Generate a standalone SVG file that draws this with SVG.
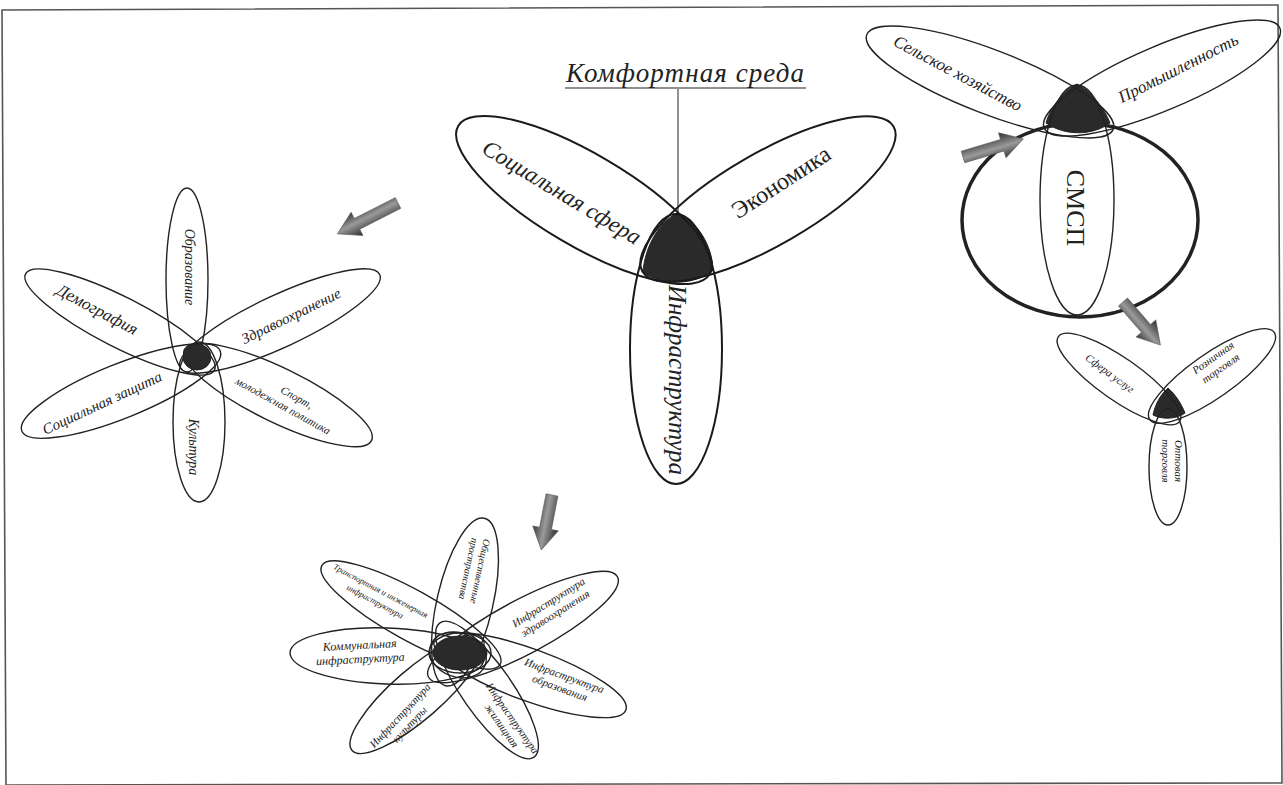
<svg xmlns="http://www.w3.org/2000/svg" width="1283" height="785" viewBox="0 0 1283 785">
<style>
.p{fill:none;stroke:#222;stroke-width:1.4}
.pc{fill:none;stroke:#1a1a1a;stroke-width:2}
.dk{fill:#2a2a2a;stroke:#222;stroke-width:1}
.t{font-family:"Liberation Serif",serif;font-style:italic;fill:#222;text-anchor:middle}
.arr{fill:url(#ag);stroke:#555;stroke-width:0.6}
</style>
<defs>
<linearGradient id="ag" x1="0" y1="0" x2="0" y2="1">
<stop offset="0" stop-color="#2e2e2e"/>
<stop offset="0.55" stop-color="#9a9a9a"/>
<stop offset="1" stop-color="#3a3a3a"/>
</linearGradient>
</defs>
<rect x="0" y="0" width="1283" height="785" fill="#fff"/>
<polygon points="2,10 1278,5 1282,783 6,785" fill="none" stroke="#555" stroke-width="1.6"/>

<g id="comfort">
<text class="t" x="685" y="82" font-size="27" textLength="238" lengthAdjust="spacing">Комфортная среда</text>
<line x1="565" y1="88" x2="806" y2="88" stroke="#222" stroke-width="1.2"/>
<line x1="678" y1="89" x2="678" y2="213" stroke="#222" stroke-width="1"/>
</g>

<g id="center-flower">
<path class="dk" d="M677,213 C660,222 645,245 643,272 C660,286 695,286 713,270 C712,245 698,222 677,213 Z"/>
<g id="n-social"><ellipse class="pc" cx="584" cy="200" rx="146" ry="46" transform="rotate(30.5 584 200)"/>
<text class="t" font-size="23" transform="translate(562,192) rotate(31)" dy="8">Социальная сфера</text></g>
<g id="n-econ"><ellipse class="pc" cx="768" cy="199" rx="145" ry="46" transform="rotate(-30 768 199)"/>
<text class="t" font-size="24" style="font-style:normal" transform="translate(781,182) rotate(-33)" dy="8">Экономика</text></g>
<g id="n-infra"><ellipse class="pc" cx="676" cy="349" rx="46" ry="135"/>
<text class="t" font-size="25" transform="translate(677,380) rotate(90)" dy="8">Инфраструктура</text></g>
</g>

<g id="social-flower">
<g id="n-obr"><ellipse class="p" cx="187" cy="280" rx="21" ry="92"/>
<text class="t" font-size="14" transform="translate(190,267) rotate(90)" dy="5">Образование</text></g>
<g id="n-kult"><ellipse class="p" cx="199" cy="422" rx="26" ry="80"/>
<text class="t" font-size="14" transform="translate(194,447) rotate(90)" dy="5">Культура</text></g>
<g id="n-demo"><ellipse class="p" cx="120" cy="322" rx="106" ry="25" transform="rotate(27 120 322)"/>
<text class="t" font-size="17" transform="translate(97,310) rotate(28)" dy="5">Демография</text></g>
<g id="n-zdrav"><ellipse class="p" cx="280" cy="321" rx="110" ry="26" transform="rotate(-25 280 321)"/>
<text class="t" font-size="15" transform="translate(291,316) rotate(-26)" dy="5">Здравоохранение</text></g>
<g id="n-szash"><ellipse class="p" cx="121" cy="391" rx="107" ry="27" transform="rotate(-22 121 391)"/>
<text class="t" font-size="15" transform="translate(102,403) rotate(-25)" dy="5">Социальная защита</text></g>
<g id="n-sport"><ellipse class="p" cx="278" cy="395" rx="104" ry="27" transform="rotate(26 278 395)"/>
<text class="t" font-size="11" transform="translate(285,402) rotate(29)"><tspan x="8" y="-6">Спорт,</tspan><tspan x="0" y="8">молодежная политика</tspan></text></g>
<ellipse class="dk" cx="197" cy="357" rx="14" ry="13"/>
</g>

<g id="infra-flower">
<g id="n-obsh"><ellipse class="p" cx="465" cy="602" rx="86" ry="28" transform="rotate(-77 465 602)"/>
<text class="t" font-size="10" transform="translate(474,570) rotate(102)"><tspan x="0" y="-3">Общественные</tspan><tspan x="0" y="9">пространства</tspan></text></g>
<g id="n-trans"><ellipse class="p" cx="411" cy="615" rx="102" ry="25" transform="rotate(29 411 615)"/>
<text class="t" font-size="8.5" transform="translate(378,596) rotate(28)"><tspan x="0" y="-3">Транспортная и инженерная</tspan><tspan x="0" y="9">инфраструктура</tspan></text></g>
<g id="n-izdr"><ellipse class="p" cx="523" cy="627" rx="107" ry="27" transform="rotate(-28 523 627)"/>
<text class="t" font-size="11" transform="translate(552,608) rotate(-32)"><tspan x="0" y="-3">Инфраструктура</tspan><tspan x="0" y="10">здравоохранения</tspan></text></g>
<g id="n-komm"><ellipse class="p" cx="387" cy="656" rx="97" ry="28" transform="rotate(2 387 656)"/>
<text class="t" font-size="12" transform="translate(360,652) rotate(-3)"><tspan x="0" y="-3">Коммунальная</tspan><tspan x="0" y="11">инфраструктура</tspan></text></g>
<g id="n-iobr"><ellipse class="p" cx="530" cy="675" rx="102" ry="26" transform="rotate(20 530 675)"/>
<text class="t" font-size="11" transform="translate(562,682) rotate(20)"><tspan x="0" y="-3">Инфраструктура</tspan><tspan x="0" y="10">образования</tspan></text></g>
<g id="n-ikult"><ellipse class="p" cx="417" cy="694" rx="86" ry="25" transform="rotate(-41 417 694)"/>
<text class="t" font-size="11" transform="translate(405,720) rotate(-47)"><tspan x="0" y="-3">Инфраструктура</tspan><tspan x="0" y="10">культуры</tspan></text></g>
<g id="n-izhil"><ellipse class="p" cx="487" cy="690" rx="82" ry="25" transform="rotate(55 487 690)"/>
<text class="t" font-size="11" transform="translate(507,722) rotate(55)"><tspan x="0" y="-3">Инфраструктура</tspan><tspan x="0" y="10">жилищная</tspan></text></g>
<ellipse class="dk" cx="460" cy="653" rx="27" ry="17"/>
<ellipse class="p" cx="460" cy="653" rx="31" ry="20"/>
<ellipse class="p" cx="458" cy="655" rx="29" ry="22" transform="rotate(20 458 655)"/>
</g>

<g id="econ-flower">
<ellipse class="p" cx="1080" cy="220" rx="118" ry="97" style="stroke-width:3.5"/>
<path class="dk" d="M1077,84 C1062,92 1050,108 1046,123 C1065,136 1092,136 1110,123 C1104,108 1092,92 1077,84 Z"/>
<g id="n-selhoz"><ellipse class="p" cx="990" cy="82" rx="132" ry="32" transform="rotate(21 990 82)"/>
<text class="t" font-size="17" transform="translate(958,73) rotate(28)" dy="6">Сельское хозяйство</text></g>
<g id="n-prom"><ellipse class="p" cx="1162" cy="78" rx="128" ry="32" transform="rotate(-23 1162 78)"/>
<text class="t" font-size="17" transform="translate(1178,68) rotate(-27)" dy="6">Промышленность</text></g>
<g id="n-smsp"><ellipse class="p" cx="1077" cy="200" rx="37" ry="115"/>
<text class="t" font-size="26" style="font-style:normal" transform="translate(1076,208) rotate(90)" dy="9">СМСП</text></g>
</g>

<g id="trade-flower">
<path class="dk" d="M1168,388 C1160,395 1155,405 1153,415 C1163,420 1177,419 1185,413 C1181,403 1175,394 1168,388 Z"/>
<g id="n-usl"><ellipse class="p" cx="1119" cy="379" rx="74" ry="21" transform="rotate(35 1119 379)"/>
<text class="t" font-size="11" transform="translate(1110,373) rotate(36.5)" dy="4">Сфера услуг</text></g>
<g id="n-rozn"><ellipse class="p" cx="1212" cy="376" rx="76" ry="22" transform="rotate(-35 1212 376)"/>
<text class="t" font-size="11" transform="translate(1217,363) rotate(-35)"><tspan x="0" y="-3">Розничная</tspan><tspan x="0" y="10">торговля</tspan></text></g>
<g id="n-opt"><ellipse class="p" cx="1168" cy="467" rx="19" ry="58"/>
<text class="t" font-size="11" transform="translate(1171,461) rotate(90)"><tspan x="0" y="-4">Оптовая</tspan><tspan x="0" y="9">торговля</tspan></text></g>
</g>

<g id="connectors">
<path class="arr" d="M0,-6 L46,-6 L46,-13 L68,0 L46,13 L46,6 L0,6 Z" transform="translate(398,203) rotate(153)"/>
<path class="arr" d="M0,-6 L34,-6 L34,-13 L56,0 L34,13 L34,6 L0,6 Z" transform="translate(552,495) rotate(101)"/>
<path class="arr" d="M0,-6 L41,-6 L41,-13 L63,0 L41,13 L41,6 L0,6 Z" transform="translate(963,157) rotate(-16.7)"/>
<path class="arr" d="M0,-6 L35,-6 L35,-13 L57,0 L35,13 L35,6 L0,6 Z" transform="translate(1123,302) rotate(49)"/>
</g>
</svg>
